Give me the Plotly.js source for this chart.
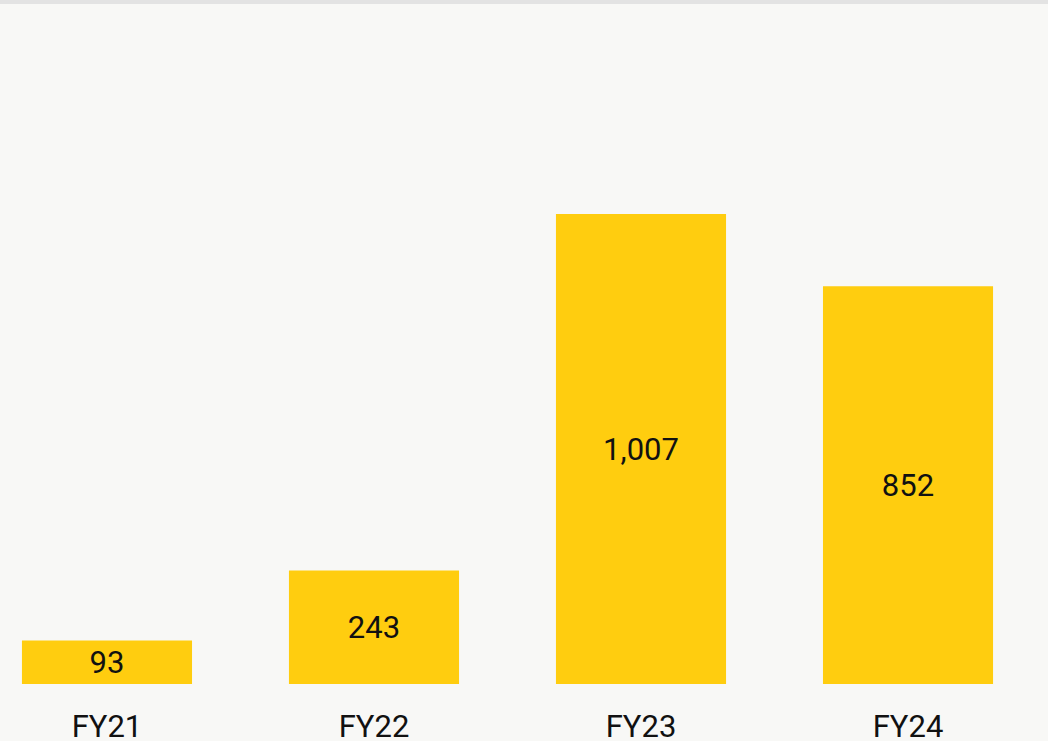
<!DOCTYPE html>
<html>
<head>
<meta charset="utf-8">
<script src="https://cdn.plot.ly/plotly-3.0.1.min.js"></script>
<style>html,body{margin:0;padding:0;background:#f8f8f6;}#chart{width:1048px;height:741px;}</style>
</head>
<body>
<div id="chart"></div>
<script>
const categories = ["FY21", "FY22", "FY23", "FY24"];
const values = [93, 243, 1007, 852];
const valueLabels = ["93", "243", "1,007", "852"];

const W = 1048, H = 741, mT = 4, mB = 57;
const plotH = H - mT - mB;
const FONT = "Roboto, sans-serif";

const trace = {
  type: "bar",
  x: categories,
  y: values,
  text: valueLabels,
  textposition: "inside",
  insidetextanchor: "middle",
  constraintext: "none",
  textangle: 0,
  textfont: {family: FONT, size: 31, color: "#111111"},
  marker: {color: "#FFCD0F", line: {width: 0}},
  hoverinfo: "none"
};

const layout = {
  width: W, height: H,
  margin: {l: 0, r: 0, t: mT, b: mB, pad: 0},
  paper_bgcolor: "#f8f8f6",
  plot_bgcolor: "#f8f8f6",
  bargap: 0.363,
  showlegend: false,
  xaxis: {
    type: "category",
    range: [-0.4007, 3.5243],
    showgrid: false, zeroline: false, showline: false,
    ticks: "", ticklabelstandoff: 21,
    tickfont: {family: FONT, size: 31, color: "#111111"},
    fixedrange: true
  },
  yaxis: {
    range: [0, 1457],
    visible: false,
    showgrid: false, zeroline: false,
    fixedrange: true
  },
  shapes: [{
    type: "rect", xref: "paper", yref: "paper",
    x0: 0, x1: 1, y0: 1, y1: 1 + mT / plotH,
    fillcolor: "#e3e3e3", line: {width: 0}
  }]
};

Plotly.newPlot("chart", [trace], layout, {displayModeBar: false, staticPlot: true});
</script>
</body>
</html>
